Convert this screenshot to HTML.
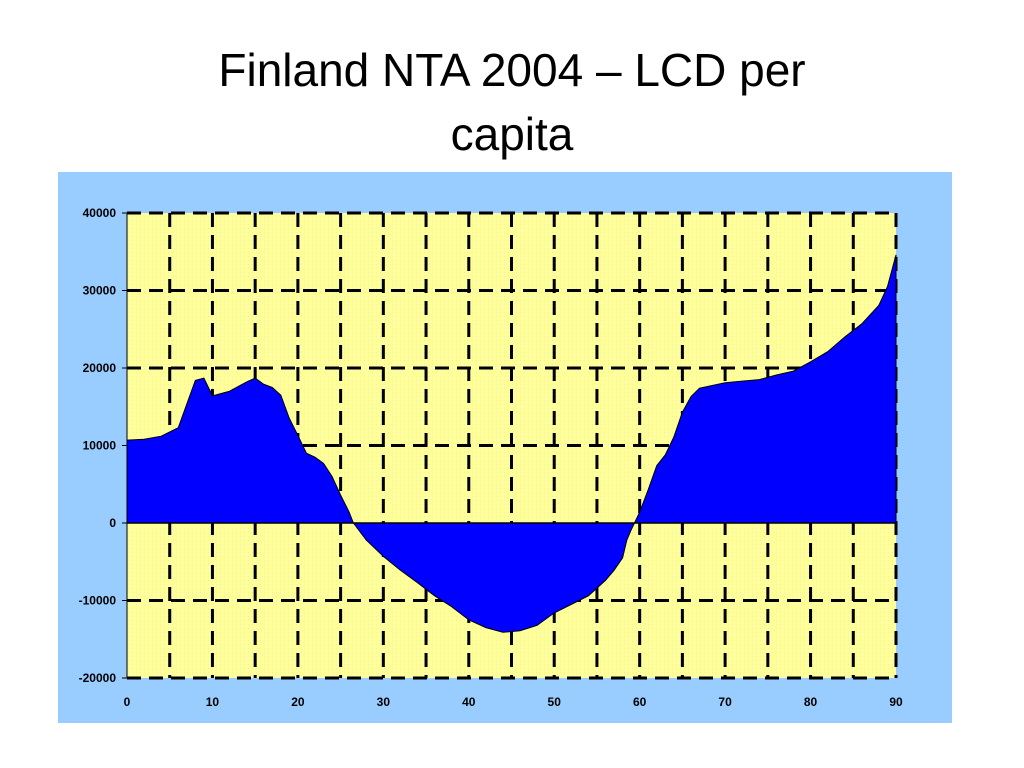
<!DOCTYPE html>
<html><head><meta charset="utf-8"><style>
body{margin:0;width:1024px;height:768px;background:#fff;overflow:hidden;font-family:"Liberation Sans",Arial,sans-serif}
#title{position:absolute;left:0;top:38px;width:1024px;text-align:center;font-size:46px;line-height:64px;color:#000}
</style></head><body>
<div id="title">Finland NTA 2004 – LCD per<br>capita</div>
<svg id="chart" width="1024" height="768" style="position:absolute;left:0;top:0">
<defs><pattern id="dots" width="4" height="4" patternUnits="userSpaceOnUse"><rect width="4" height="4" fill="#ffff99"/><rect width="1" height="1" fill="#f2f0b0"/></pattern></defs>
<rect x="58" y="172" width="894" height="551" fill="#99ccff"/>
<rect x="127" y="213" width="769" height="465" fill="url(#dots)"/>
<g id="grid"></g><g id="series"></g><g id="axes"></g>
</svg>
<script>
const ages=[0,2,4,6,8,9,10,12,14,15,16,17,18,19,20,21,22,23,24,25,26,26.5,28,30,32,34,36,38,40,42,44,46,48,50,52,54,56,57,58,58.5,59,60,61,62,63,64,65,66,67,70,72,74,76,78,80,82,84,86,88,89,90];
const lcd=[10700,10800,11200,12300,18400,18700,16400,17000,18200,18700,17900,17500,16500,13500,11300,9000,8500,7700,6000,3600,1400,0,-2200,-4300,-6100,-7700,-9400,-10800,-12500,-13500,-14100,-13900,-13200,-11600,-10500,-9400,-7400,-6100,-4500,-2200,-900,1400,4300,7400,8800,11100,14300,16300,17400,18100,18300,18500,19100,19600,20800,22100,24000,25700,28100,30500,34600];
const xTicks=[0,10,20,30,40,50,60,70,80,90];
const yTicks=[40000,30000,20000,10000,0,-10000,-20000];
const x=a=>127+a*(769/90), y=v=>523-v*(310/40000);
const NS='http://www.w3.org/2000/svg';
function mk(t,attrs,parent){const e=document.createElementNS(NS,t);for(const k in attrs)e.setAttribute(k,attrs[k]);document.querySelector(parent).appendChild(e);return e;}
const dash={stroke:'#000','stroke-width':3,'stroke-dasharray':'14 8'};
for(let a=5;a<=90;a+=5){const l=mk('line',Object.assign({x1:x(a),x2:x(a),y1:213,y2:678},dash),'#grid');

}
for(const v of yTicks){if(v===0)continue;const l=mk('line',Object.assign({x1:127,x2:896,y1:y(v),y2:y(v)},dash),'#grid');

}
let d=`M${x(ages[0])},${y(0)}`;ages.forEach((a,i)=>d+=` L${x(a)},${y(lcd[i])}`);d+=` L${x(ages[ages.length-1])},${y(0)} Z`;
const p=mk('path',{d,fill:'#0000ff',stroke:'#000','stroke-width':1},'#series');


const zl=mk('line',{x1:127,x2:896,y1:y(0),y2:y(0),stroke:'#000','stroke-width':1.5},'#axes');


const ya=mk('line',{x1:127,x2:127,y1:213,y2:678,stroke:'#000','stroke-width':1},'#axes');


for(const v of yTicks){const t=mk('text',{x:116,y:y(v)+4,'text-anchor':'end','font-size':12,'font-weight':'bold','font-family':'Liberation Sans, Arial, sans-serif'},'#axes');t.textContent=v;


mk('line',{x1:122,x2:127,y1:y(v),y2:y(v),stroke:'#000'},'#axes');}
for(const a of xTicks){const t=mk('text',{x:x(a),y:706,'text-anchor':'middle','font-size':12,'font-weight':'bold','font-family':'Liberation Sans, Arial, sans-serif'},'#axes');t.textContent=a;

}
</script>
</body></html>
